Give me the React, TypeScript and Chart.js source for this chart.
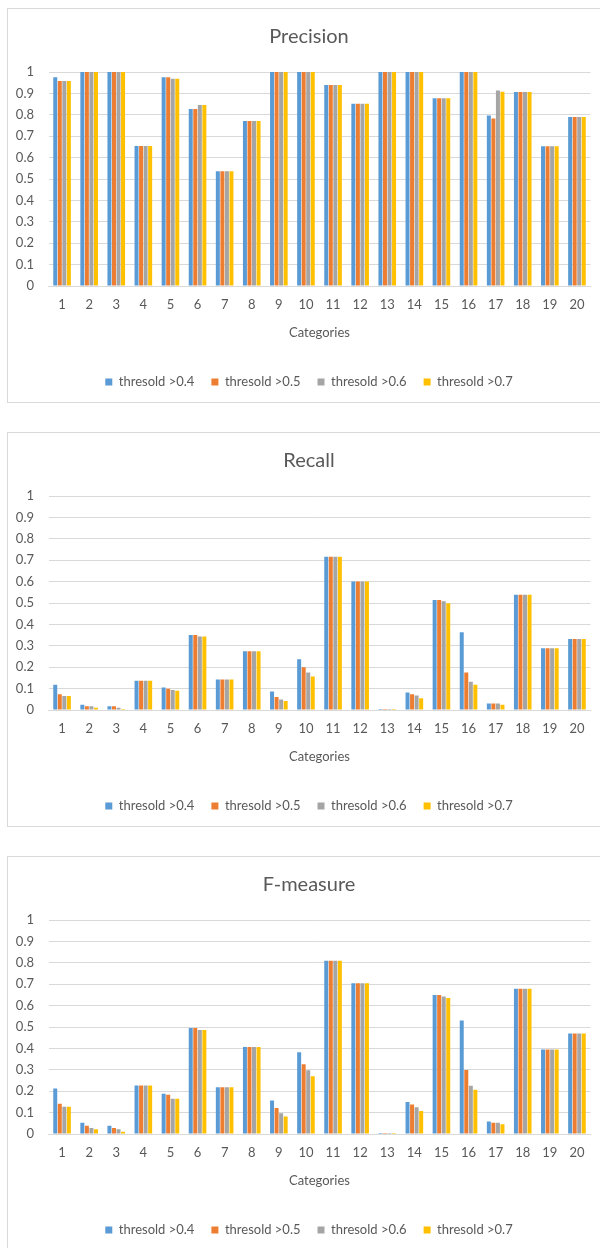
import React, { useEffect, useRef } from "react";
import { Chart, registerables } from "chart.js";

Chart.register(...registerables);

// Categories 1..20 and the threshold series names
const categories = ["1", "2", "3", "4", "5", "6", "7", "8", "9", "10", "11", "12", "13", "14", "15", "16", "17", "18", "19", "20"];
const seriesNames = ["thresold >0.4", "thresold >0.5", "thresold >0.6", "thresold >0.7"];
const seriesColors = ["#5B9BD5", "#ED7D31", "#A5A5A5", "#FFC000"];
const yTickLabels = ["0", "0.1", "0.2", "0.3", "0.4", "0.5", "0.6", "0.7", "0.8", "0.9", "1"];

// Precision per threshold
const precision04 = [0.975, 1, 1, 0.654, 0.975, 0.827, 0.536, 0.771, 1, 1, 0.939, 0.852, 1, 1, 0.877, 1, 0.797, 0.907, 0.653, 0.79];
const precision05 = [0.958, 1, 1, 0.654, 0.975, 0.827, 0.536, 0.771, 1, 1, 0.939, 0.852, 1, 1, 0.877, 1, 0.783, 0.907, 0.653, 0.79];
const precision06 = [0.958, 1, 1, 0.654, 0.969, 0.846, 0.536, 0.771, 1, 1, 0.939, 0.852, 1, 1, 0.877, 1, 0.913, 0.907, 0.653, 0.79];
const precision07 = [0.958, 1, 1, 0.654, 0.969, 0.846, 0.536, 0.771, 1, 1, 0.939, 0.852, 1, 1, 0.877, 1, 0.908, 0.907, 0.653, 0.79];

// Recall per threshold
const recall04 = [0.118, 0.024, 0.017, 0.137, 0.105, 0.35, 0.143, 0.275, 0.086, 0.237, 0.716, 0.601, 0.005, 0.082, 0.514, 0.363, 0.03, 0.539, 0.288, 0.332];
const recall05 = [0.074, 0.017, 0.017, 0.137, 0.099, 0.35, 0.143, 0.275, 0.061, 0.2, 0.716, 0.601, 0.005, 0.074, 0.514, 0.175, 0.03, 0.539, 0.288, 0.332];
const recall06 = [0.066, 0.017, 0.011, 0.137, 0.094, 0.344, 0.143, 0.275, 0.049, 0.175, 0.716, 0.601, 0.005, 0.068, 0.508, 0.132, 0.03, 0.539, 0.288, 0.332];
const recall07 = [0.066, 0.011, 0.005, 0.137, 0.09, 0.344, 0.143, 0.275, 0.042, 0.156, 0.716, 0.601, 0.005, 0.055, 0.499, 0.118, 0.024, 0.539, 0.288, 0.332];

// F-measure per threshold
const fmeasure04 = [0.213, 0.052, 0.038, 0.227, 0.188, 0.495, 0.219, 0.406, 0.157, 0.382, 0.809, 0.705, 0.005, 0.15, 0.649, 0.53, 0.058, 0.679, 0.395, 0.47];
const fmeasure05 = [0.141, 0.039, 0.028, 0.227, 0.183, 0.495, 0.219, 0.406, 0.122, 0.326, 0.809, 0.705, 0.005, 0.138, 0.649, 0.299, 0.052, 0.679, 0.395, 0.47];
const fmeasure06 = [0.127, 0.028, 0.022, 0.227, 0.165, 0.486, 0.219, 0.406, 0.097, 0.298, 0.809, 0.705, 0.005, 0.125, 0.643, 0.226, 0.052, 0.679, 0.395, 0.47];
const fmeasure07 = [0.127, 0.022, 0.011, 0.227, 0.165, 0.486, 0.219, 0.406, 0.082, 0.27, 0.809, 0.705, 0.005, 0.107, 0.635, 0.207, 0.045, 0.679, 0.395, 0.47];

const TEXT = "#595959";
const GRID = "#D9D9D9";
const FONT = "Lato, 'Open Sans', sans-serif";

const CANVAS_W = 603;
const CANVAS_H = 393;

// The y scale box is kept narrow so the title and legend centre further right;
// widen its drawing bounds afterwards so the tick labels are not clipped.
const yLabelRoom = {
  id: "yLabelRoom",
  afterLayout(chart: any) {
    const y = chart.scales.y;
    if (y) y.left = 0;
  },
};

function MetricChart({ title, series }: { title: string; series: number[][] }) {
  const ref = useRef<HTMLCanvasElement | null>(null);

  useEffect(() => {
    if (!ref.current) return;
    const chart = new Chart(ref.current, {
      type: "bar",
      data: {
        labels: categories,
        datasets: series.map((values, i) => ({
          label: seriesNames[i],
          data: values,
          backgroundColor: seriesColors[i],
          borderWidth: 0,
          categoryPercentage: 0.67,
          barPercentage: 0.88,
        })),
      },
      plugins: [yLabelRoom],
      options: {
        responsive: false,
        animation: false,
        events: [],
        layout: { padding: { left: 19.5, right: 20.5, top: 0, bottom: 3.5 } },
        plugins: {
          tooltip: { enabled: false },
          title: {
            display: true,
            text: title,
            color: TEXT,
            font: { family: FONT, size: 20, weight: "normal", lineHeight: 1.2 },
            padding: { top: 16, bottom: 23 },
          },
          legend: {
            display: true,
            position: "bottom",
            labels: {
              color: TEXT,
              font: { family: FONT, size: 13 },
              boxWidth: 7,
              boxHeight: 7,
              padding: 17,
            },
          },
        },
        scales: {
          x: {
            grid: { display: false, drawTicks: false },
            border: { display: true, color: GRID },
            ticks: { color: TEXT, font: { family: FONT, size: 13, lineHeight: 1.2 }, padding: 11.2, maxRotation: 0, autoSkip: false },
            title: {
              display: true,
              text: "Categories",
              color: TEXT,
              font: { family: FONT, size: 13, lineHeight: 1.2 },
              padding: { top: 1.2, bottom: 17.7 },
            },
          },
          y: {
            min: 0,
            max: 1,
            grid: { color: GRID, drawTicks: false, lineWidth: 1 },
            border: { display: false },
            ticks: {
              stepSize: 0.1,
              color: TEXT,
              font: { family: FONT, size: 13 },
              padding: 14.5,
              callback: (v: any) => yTickLabels[Math.round(Number(v) * 10)],
            },
            afterFit: (scale: any) => {
              scale.width = 21;
            },
          },
        },
      },
    });
    return () => chart.destroy();
  }, [title, series]);

  return <canvas ref={ref} width={CANVAS_W} height={CANVAS_H} style={{ display: "block", width: CANVAS_W, height: CANVAS_H }} />;
}

const panels = [
  { title: "Precision", series: [precision04, precision05, precision06, precision07] },
  { title: "Recall", series: [recall04, recall05, recall06, recall07] },
  { title: "F-measure", series: [fmeasure04, fmeasure05, fmeasure06, fmeasure07] },
];

export default function App() {
  return (
    <div style={{ position: "fixed", left: 0, top: 0, width: 600, height: 1248, overflow: "hidden", background: "#fff" }}>
      {panels.map((p, i) => (
        <div
          key={p.title}
          style={{
            position: "absolute",
            left: 7,
            top: 8 + i * 424,
            width: CANVAS_W,
            height: CANVAS_H,
            border: `1px solid ${GRID}`,
            background: "#fff",
          }}
        >
          <MetricChart title={p.title} series={p.series} />
        </div>
      ))}
    </div>
  );
}
